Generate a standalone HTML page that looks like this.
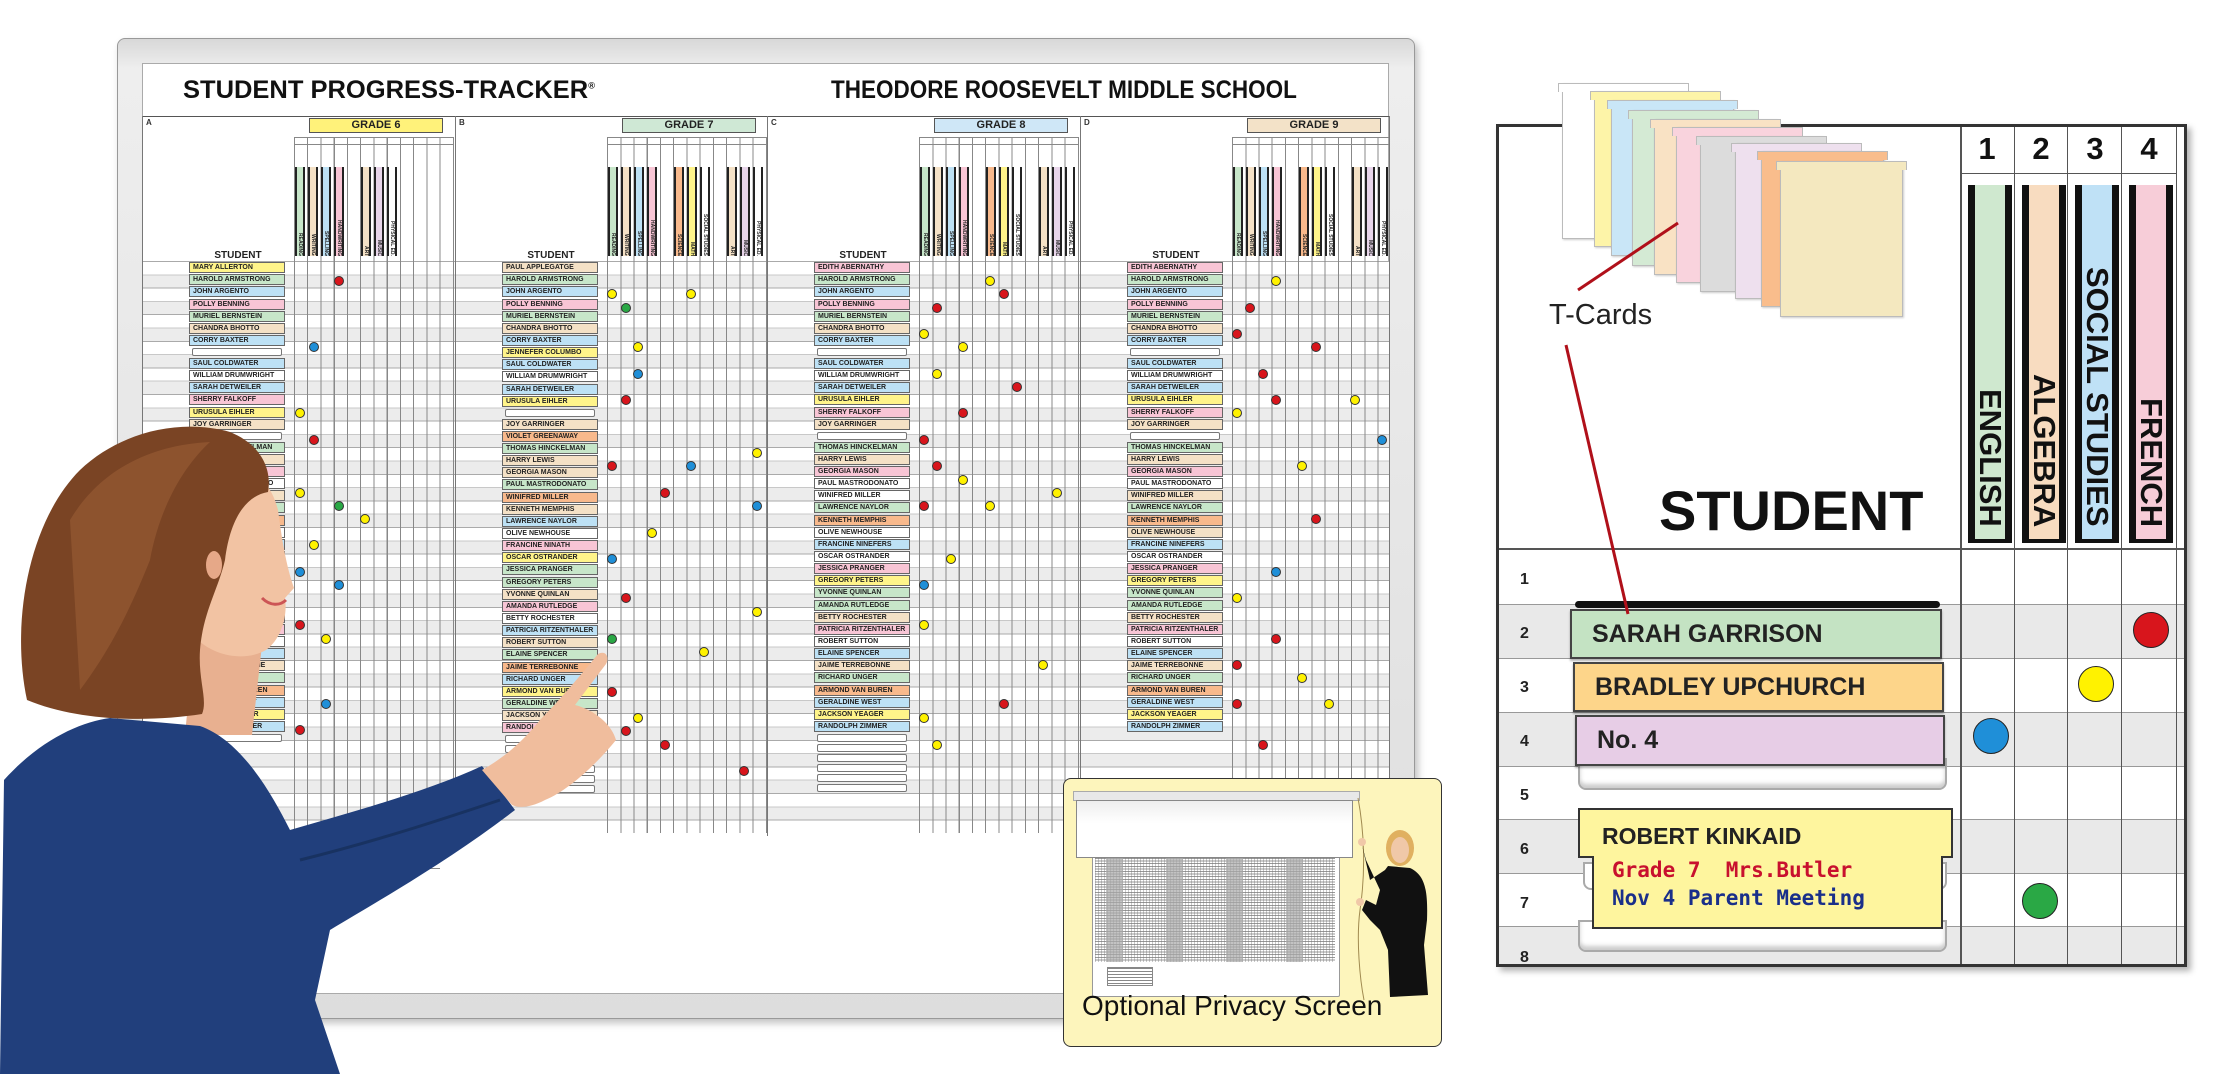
<!DOCTYPE html>
<html><head><meta charset="utf-8">
<style>
*{margin:0;padding:0;box-sizing:border-box}
body{width:2227px;height:1074px;position:relative;overflow:hidden;background:#fff;font-family:"Liberation Sans",sans-serif}
.a{position:absolute}
.sec{position:absolute;top:116px;width:313px;height:720px;border-left:1px solid #777}
.grid{position:absolute;left:151px;top:21px;width:160px;height:696px;
background:repeating-linear-gradient(90deg,#888 0 1px,transparent 1px 13.25px)}
.rows{position:absolute;left:0;top:145px;width:312px;height:572px;
background:repeating-linear-gradient(180deg,#aaa 0 1px,#fff 1px 13.3px,#c8c8c8 13.3px 14.3px,#ececec 14.3px 26.6px)}
.nums{position:absolute;left:151px;top:21px;width:160px;height:8px;border-bottom:1px solid #888;border-top:1px solid #888}
.gr{position:absolute;left:166px;top:2px;width:134px;height:15px;border:1px solid #555;font:bold 11px "Liberation Sans Narrow","Liberation Sans",sans-serif;text-align:center;line-height:13px;color:#222}
.lt{position:absolute;left:3px;top:2px;font:bold 8px "Liberation Sans",sans-serif;color:#333}
.st{position:absolute;left:40px;width:110px;top:134px;text-align:center;font:bold 10px "Liberation Sans Narrow","Liberation Sans",sans-serif;color:#222}
.nm{position:absolute;left:46px;top:145px;width:96px}
.nm b{display:block;height:11px;margin:1.15px 0;border:1px solid #666;font:bold 7px/9px "Liberation Sans Narrow","Liberation Sans",sans-serif;padding-left:3px;white-space:nowrap;overflow:hidden;color:#222}
.nm b.tr{border:1px solid #777;border-radius:2px;background:#fff;margin:2px 3px;height:8px}
.y{background:#fff48a}.g{background:#c7e6c9}.b{background:#bde1f5}.p{background:#f8c5d5}.t{background:#f4e1c6}.o{background:#f8b98c}.w{background:#fff}.l{background:#e8d5ea}
.cd{position:absolute;top:51px;width:10px;height:89px;border:1px solid #222;border-width:0 2px;font:bold 5px "Liberation Sans",sans-serif;writing-mode:vertical-rl;text-align:end;color:#222;overflow:hidden}
.dot{position:absolute;width:10px;height:10px;border-radius:50%;border:1px solid #333;margin:-5px 0 0 -5px}
.R{background:#d8151c}.Y{background:#fff200}.G{background:#2aa845}.B{background:#1f8fd8}
.bigdot{position:absolute;width:36px;height:36px;border-radius:50%;border:1.5px solid #222;margin:-18px 0 0 -18px}
.tc{position:absolute;width:123px;height:156px;border:1px solid #bbb;box-shadow:1px 1px 2px rgba(0,0,0,.2)}
.tc:before{content:"";position:absolute;left:-5px;right:-5px;top:-1px;height:8px;background:inherit;border:1px solid #bbb;border-bottom:none}
.rn{position:absolute;left:1520px;font:bold 16px "Liberation Sans",sans-serif;color:#222}
.card{position:absolute;border:2px solid #444;font:bold 25px "Liberation Sans",sans-serif;color:#222;padding-left:20px;line-height:46px;box-shadow:0 2px 2px rgba(0,0,0,.3)}
.subj{position:absolute;top:185px;width:44px;height:358px;border:1px solid #111;border-width:0 7px 4px 7px}
.subj span{position:absolute;bottom:12px;left:0;width:30px;writing-mode:vertical-rl;font:bold 31px "Liberation Sans",sans-serif;line-height:30px;color:#111;white-space:nowrap}
</style></head><body>

<div class="a" style="left:117px;top:38px;width:1298px;height:981px;background:linear-gradient(#d8d8d8,#eee 3%,#ddd);border:1px solid #999;border-radius:8px;box-shadow:3px 4px 8px rgba(0,0,0,.25)"></div>
<div class="a" style="left:142px;top:63px;width:1247px;height:931px;background:#fff;border:1px solid #aaa"></div>
<div class="a" style="left:183px;top:76px;font:bold 25px 'Liberation Sans',sans-serif;color:#111;transform:scaleX(1.02);transform-origin:left">STUDENT PROGRESS-TRACKER<sup style="font-size:9px">®</sup></div>
<div class="a" style="left:831px;top:76px;font:bold 25px 'Liberation Sans',sans-serif;color:#111;white-space:nowrap;transform:scaleX(0.9);transform-origin:left">THEODORE ROOSEVELT MIDDLE SCHOOL</div>
<div class="a" style="left:142px;top:116px;width:1247px;border-top:1px solid #555"></div>

<div class="sec" style="left:142px">
<div class="lt">A</div><div class="gr" style="background:#fff27a">GRADE 6</div>
<div class="rows"></div><div class="nums"></div><div class="grid"></div>
<div class="cd g" style="left:152px">READING</div><div class="cd t" style="left:165px">WRITING</div><div class="cd b" style="left:178px">SPELLING</div><div class="cd p" style="left:191px">HANDWRITING</div><div class="cd t" style="left:218px">ART</div><div class="cd l" style="left:231px">MUSIC</div><div class="cd w" style="left:244px">PHYSICAL ED.</div>
<div class="st">STUDENT</div>
<div class="nm"><b class=y>MARY ALLERTON</b><b class=g>HAROLD ARMSTRONG</b><b class=b>JOHN ARGENTO</b><b class=p>POLLY BENNING</b><b class=g>MURIEL BERNSTEIN</b><b class=t>CHANDRA BHOTTO</b><b class=b>CORRY BAXTER</b><b class=tr></b><b class=b>SAUL COLDWATER</b><b class=w>WILLIAM DRUMWRIGHT</b><b class=b>SARAH DETWEILER</b><b class=p>SHERRY FALKOFF</b><b class=y>URUSULA EIHLER</b><b class=t>JOY GARRINGER</b><b class=tr></b><b class=g>THOMAS HINCKELMAN</b><b class=t>HARRY LEWIS</b><b class=p>GEORGIA MASON</b><b class=w>PAUL MASTRODONATO</b><b class=t>WINIFRED MILLER</b><b class=g>LAWRENCE NAYLOR</b><b class=o>KENNETH MEMPHIS</b><b class=w>OLIVE NEWHOUSE</b><b class=b>FRANCINE NINEFERS</b><b class=w>OSCAR OSTRANDER</b><b class=y>JESSICA PRANGER</b><b class=g>GREGORY PETERS</b><b class=g>YVONNE QUINLAN</b><b class=t>AMANDA RUTLEDGE</b><b class=p>BETTY ROCHESTER</b><b class=p>PATRICIA RITZENTHALER</b><b class=w>ROBERT SUTTON</b><b class=b>ELAINE SPENCER</b><b class=t>JAIME TERREBONNE</b><b class=g>RICHARD UNGER</b><b class=o>ARMOND VAN BUREN</b><b class=b>GERALDINE WEST</b><b class=y>JACKSON YEAGER</b><b class=b>RANDOLPH ZIMMER</b><b class=tr></b></div>
</div>

<div class="sec" style="left:455px">
<div class="lt">B</div><div class="gr" style="background:#cfe8d5">GRADE 7</div>
<div class="rows"></div><div class="nums"></div><div class="grid"></div>
<div class="cd g" style="left:152px">READING</div><div class="cd t" style="left:165px">WRITING</div><div class="cd b" style="left:178px">SPELLING</div><div class="cd p" style="left:191px">HANDWRITING</div><div class="cd o" style="left:218px">SCIENCE</div><div class="cd y" style="left:231px">MATH</div><div class="cd w" style="left:244px">SOCIAL STUDIES</div><div class="cd t" style="left:271px">ART</div><div class="cd l" style="left:284px">MUSIC</div><div class="cd w" style="left:297px">PHYSICAL ED.</div>
<div class="st">STUDENT</div>
<div class="nm"><b class=t>PAUL APPLEGATGE</b><b class=g>HAROLD ARMSTRONG</b><b class=b>JOHN ARGENTO</b><b class=p>POLLY BENNING</b><b class=g>MURIEL BERNSTEIN</b><b class=t>CHANDRA BHOTTO</b><b class=b>CORRY BAXTER</b><b class=y>JENNEFER COLUMBO</b><b class=b>SAUL COLDWATER</b><b class=w>WILLIAM DRUMWRIGHT</b><b class=b>SARAH DETWEILER</b><b class=y>URUSULA EIHLER</b><b class=tr></b><b class=t>JOY GARRINGER</b><b class=o>VIOLET GREENAWAY</b><b class=g>THOMAS HINCKELMAN</b><b class=t>HARRY LEWIS</b><b class=t>GEORGIA MASON</b><b class=g>PAUL MASTRODONATO</b><b class=o>WINIFRED MILLER</b><b class=t>KENNETH MEMPHIS</b><b class=b>LAWRENCE NAYLOR</b><b class=w>OLIVE NEWHOUSE</b><b class=p>FRANCINE NINATH</b><b class=y>OSCAR OSTRANDER</b><b class=g>JESSICA PRANGER</b><b class=g>GREGORY PETERS</b><b class=t>YVONNE QUINLAN</b><b class=p>AMANDA RUTLEDGE</b><b class=w>BETTY ROCHESTER</b><b class=b>PATRICIA RITZENTHALER</b><b class=t>ROBERT SUTTON</b><b class=g>ELAINE SPENCER</b><b class=o>JAIME TERREBONNE</b><b class=b>RICHARD UNGER</b><b class=y>ARMOND VAN BUREN</b><b class=g>GERALDINE WEST</b><b class=t>JACKSON YEAGER</b><b class=p>RANDOLPH ZIMMER</b><b class=tr></b><b class=tr></b><b class=tr></b><b class=tr></b><b class=tr></b><b class=tr></b></div>
</div>

<div class="sec" style="left:767px">
<div class="lt">C</div><div class="gr" style="background:#cfe7f7">GRADE 8</div>
<div class="rows"></div><div class="nums"></div><div class="grid"></div>
<div class="cd g" style="left:152px">READING</div><div class="cd t" style="left:165px">WRITING</div><div class="cd b" style="left:178px">SPELLING</div><div class="cd p" style="left:191px">HANDWRITING</div><div class="cd o" style="left:218px">SCIENCE</div><div class="cd y" style="left:231px">MATH</div><div class="cd w" style="left:244px">SOCIAL STUDIES</div><div class="cd t" style="left:271px">ART</div><div class="cd l" style="left:284px">MUSIC</div><div class="cd w" style="left:297px">PHYSICAL ED.</div>
<div class="st">STUDENT</div>
<div class="nm"><b class=p>EDITH ABERNATHY</b><b class=g>HAROLD ARMSTRONG</b><b class=b>JOHN ARGENTO</b><b class=p>POLLY BENNING</b><b class=g>MURIEL BERNSTEIN</b><b class=t>CHANDRA BHOTTO</b><b class=b>CORRY BAXTER</b><b class=tr></b><b class=b>SAUL COLDWATER</b><b class=w>WILLIAM DRUMWRIGHT</b><b class=b>SARAH DETWEILER</b><b class=y>URUSULA EIHLER</b><b class=p>SHERRY FALKOFF</b><b class=t>JOY GARRINGER</b><b class=tr></b><b class=g>THOMAS HINCKELMAN</b><b class=t>HARRY LEWIS</b><b class=p>GEORGIA MASON</b><b class=w>PAUL MASTRODONATO</b><b class=w>WINIFRED MILLER</b><b class=g>LAWRENCE NAYLOR</b><b class=o>KENNETH MEMPHIS</b><b class=w>OLIVE NEWHOUSE</b><b class=b>FRANCINE NINEFERS</b><b class=w>OSCAR OSTRANDER</b><b class=p>JESSICA PRANGER</b><b class=y>GREGORY PETERS</b><b class=g>YVONNE QUINLAN</b><b class=g>AMANDA RUTLEDGE</b><b class=t>BETTY ROCHESTER</b><b class=p>PATRICIA RITZENTHALER</b><b class=w>ROBERT SUTTON</b><b class=b>ELAINE SPENCER</b><b class=t>JAIME TERREBONNE</b><b class=g>RICHARD UNGER</b><b class=o>ARMOND VAN BUREN</b><b class=b>GERALDINE WEST</b><b class=y>JACKSON YEAGER</b><b class=b>RANDOLPH ZIMMER</b><b class=tr></b><b class=tr></b><b class=tr></b><b class=tr></b><b class=tr></b><b class=tr></b></div>
</div>

<div class="sec" style="left:1080px;width:310px;border-right:1px solid #777">
<div class="lt">D</div><div class="gr" style="background:#f3e2c8">GRADE 9</div>
<div class="rows" style="width:308px"></div><div class="nums" style="width:157px"></div><div class="grid" style="width:157px"></div>
<div class="cd g" style="left:152px">READING</div><div class="cd t" style="left:165px">WRITING</div><div class="cd b" style="left:178px">SPELLING</div><div class="cd p" style="left:191px">HANDWRITING</div><div class="cd o" style="left:218px">SCIENCE</div><div class="cd y" style="left:231px">MATH</div><div class="cd w" style="left:244px">SOCIAL STUDIES</div><div class="cd t" style="left:271px">ART</div><div class="cd l" style="left:284px">MUSIC</div><div class="cd w" style="left:297px">PHYSICAL ED.</div>
<div class="st">STUDENT</div>
<div class="nm"><b class=p>EDITH ABERNATHY</b><b class=g>HAROLD ARMSTRONG</b><b class=b>JOHN ARGENTO</b><b class=p>POLLY BENNING</b><b class=g>MURIEL BERNSTEIN</b><b class=t>CHANDRA BHOTTO</b><b class=b>CORRY BAXTER</b><b class=tr></b><b class=b>SAUL COLDWATER</b><b class=w>WILLIAM DRUMWRIGHT</b><b class=b>SARAH DETWEILER</b><b class=y>URUSULA EIHLER</b><b class=p>SHERRY FALKOFF</b><b class=t>JOY GARRINGER</b><b class=tr></b><b class=g>THOMAS HINCKELMAN</b><b class=t>HARRY LEWIS</b><b class=p>GEORGIA MASON</b><b class=w>PAUL MASTRODONATO</b><b class=t>WINIFRED MILLER</b><b class=g>LAWRENCE NAYLOR</b><b class=o>KENNETH MEMPHIS</b><b class=t>OLIVE NEWHOUSE</b><b class=b>FRANCINE NINEFERS</b><b class=w>OSCAR OSTRANDER</b><b class=p>JESSICA PRANGER</b><b class=y>GREGORY PETERS</b><b class=g>YVONNE QUINLAN</b><b class=g>AMANDA RUTLEDGE</b><b class=t>BETTY ROCHESTER</b><b class=p>PATRICIA RITZENTHALER</b><b class=w>ROBERT SUTTON</b><b class=b>ELAINE SPENCER</b><b class=t>JAIME TERREBONNE</b><b class=g>RICHARD UNGER</b><b class=o>ARMOND VAN BUREN</b><b class=b>GERALDINE WEST</b><b class=y>JACKSON YEAGER</b><b class=b>RANDOLPH ZIMMER</b></div>
</div>

<div class="dot R" style="left:339px;top:281px"></div><div class="dot B" style="left:314px;top:347px"></div><div class="dot Y" style="left:300px;top:413px"></div><div class="dot R" style="left:314px;top:440px"></div><div class="dot Y" style="left:300px;top:493px"></div><div class="dot G" style="left:339px;top:506px"></div><div class="dot Y" style="left:365px;top:519px"></div><div class="dot Y" style="left:314px;top:545px"></div><div class="dot B" style="left:300px;top:572px"></div><div class="dot B" style="left:339px;top:585px"></div><div class="dot R" style="left:300px;top:625px"></div><div class="dot Y" style="left:326px;top:639px"></div><div class="dot B" style="left:326px;top:704px"></div><div class="dot R" style="left:300px;top:730px"></div>
<div class="dot Y" style="left:612px;top:294px"></div><div class="dot Y" style="left:691px;top:294px"></div><div class="dot G" style="left:626px;top:308px"></div><div class="dot Y" style="left:638px;top:347px"></div><div class="dot B" style="left:638px;top:374px"></div><div class="dot R" style="left:626px;top:400px"></div><div class="dot Y" style="left:757px;top:453px"></div><div class="dot R" style="left:612px;top:466px"></div><div class="dot B" style="left:691px;top:466px"></div><div class="dot R" style="left:665px;top:493px"></div><div class="dot B" style="left:757px;top:506px"></div><div class="dot Y" style="left:652px;top:533px"></div><div class="dot B" style="left:612px;top:559px"></div><div class="dot R" style="left:626px;top:598px"></div><div class="dot Y" style="left:757px;top:612px"></div><div class="dot G" style="left:612px;top:639px"></div><div class="dot Y" style="left:704px;top:652px"></div><div class="dot R" style="left:612px;top:692px"></div><div class="dot Y" style="left:638px;top:718px"></div><div class="dot R" style="left:626px;top:731px"></div><div class="dot R" style="left:665px;top:745px"></div><div class="dot R" style="left:744px;top:771px"></div>
<div class="dot Y" style="left:990px;top:281px"></div><div class="dot R" style="left:1004px;top:294px"></div><div class="dot R" style="left:937px;top:308px"></div><div class="dot Y" style="left:924px;top:334px"></div><div class="dot Y" style="left:963px;top:347px"></div><div class="dot Y" style="left:937px;top:374px"></div><div class="dot R" style="left:1017px;top:387px"></div><div class="dot R" style="left:963px;top:413px"></div><div class="dot R" style="left:924px;top:440px"></div><div class="dot R" style="left:937px;top:466px"></div><div class="dot Y" style="left:963px;top:480px"></div><div class="dot Y" style="left:1057px;top:493px"></div><div class="dot R" style="left:924px;top:506px"></div><div class="dot Y" style="left:990px;top:506px"></div><div class="dot Y" style="left:951px;top:559px"></div><div class="dot B" style="left:924px;top:585px"></div><div class="dot Y" style="left:924px;top:625px"></div><div class="dot Y" style="left:1043px;top:665px"></div><div class="dot R" style="left:1004px;top:704px"></div><div class="dot Y" style="left:924px;top:718px"></div><div class="dot Y" style="left:937px;top:745px"></div>
<div class="dot Y" style="left:1276px;top:281px"></div><div class="dot R" style="left:1250px;top:308px"></div><div class="dot R" style="left:1237px;top:334px"></div><div class="dot R" style="left:1316px;top:347px"></div><div class="dot R" style="left:1263px;top:374px"></div><div class="dot R" style="left:1276px;top:400px"></div><div class="dot Y" style="left:1355px;top:400px"></div><div class="dot Y" style="left:1237px;top:413px"></div><div class="dot B" style="left:1382px;top:440px"></div><div class="dot Y" style="left:1302px;top:466px"></div><div class="dot R" style="left:1316px;top:519px"></div><div class="dot B" style="left:1276px;top:572px"></div><div class="dot Y" style="left:1237px;top:598px"></div><div class="dot R" style="left:1276px;top:639px"></div><div class="dot R" style="left:1237px;top:665px"></div><div class="dot Y" style="left:1302px;top:678px"></div><div class="dot R" style="left:1237px;top:704px"></div><div class="dot Y" style="left:1329px;top:704px"></div><div class="dot R" style="left:1263px;top:745px"></div>

<div class="a" style="left:312px;top:848px;font:bold 15px 'Liberation Sans',sans-serif;color:#222">Legend</div>
<div class="a" style="left:300px;top:868px;width:140px;border-top:1px solid #888"></div>

<div class="a" style="left:1063px;top:778px;width:379px;height:269px;background:#fdf5bc;border:1.5px solid #333;border-radius:8px"></div>
<div class="a" style="left:1092px;top:855px;width:248px;height:142px;background:#fff;border:1px solid #999;border-radius:2px"></div>
<div class="a" style="left:1095px;top:858px;width:240px;height:104px;background:repeating-linear-gradient(180deg,#999 0 1px,#fff 1px 2.6px)"></div>
<div class="a" style="left:1095px;top:858px;width:240px;height:104px;background:repeating-linear-gradient(90deg,rgba(120,120,120,.5) 0 1px,transparent 1px 3px);opacity:.8"></div>
<div class="a" style="left:1106px;top:858px;width:17px;height:104px;background:#aaa;opacity:.7"></div>
<div class="a" style="left:1166px;top:858px;width:17px;height:104px;background:#aaa;opacity:.7"></div>
<div class="a" style="left:1226px;top:858px;width:17px;height:104px;background:#aaa;opacity:.7"></div>
<div class="a" style="left:1286px;top:858px;width:17px;height:104px;background:#aaa;opacity:.7"></div>
<div class="a" style="left:1107px;top:967px;width:46px;height:19px;background:repeating-linear-gradient(180deg,#888 0 1px,#fff 1px 3px);border:1px solid #888"></div>
<div class="a" style="left:1073px;top:791px;width:287px;height:10px;background:#e8e8e8;border:1px solid #aaa"></div>
<div class="a" style="left:1076px;top:800px;width:277px;height:58px;background:linear-gradient(#eee,#fff 40%);border:1px solid #888"></div>
<svg class="a" style="left:1340px;top:790px" width="100" height="215" viewBox="0 0 100 215">
<path d="M18,8 C24,40 26,80 20,120 C16,150 20,190 24,210" stroke="#a08a50" fill="none" stroke-width="1"/>
<ellipse cx="60" cy="58" rx="14" ry="18" fill="#e0b060"/>
<ellipse cx="60" cy="60" rx="9" ry="13" fill="#f0c8a8"/>
<path d="M22,55 L30,90 L45,80 L48,76 L70,78 C85,85 88,100 87,130 L84,155 L88,205 L50,207 L48,160 L40,140 L30,130 L22,120 L26,110 L36,115 L40,100 L26,70 Z" fill="#111"/>
<circle cx="22" cy="52" r="4" fill="#f0c8a8"/><circle cx="20" cy="112" r="4" fill="#f0c8a8"/>
</svg>
<div class="a" style="left:1082px;top:990px;font:28px 'Liberation Sans',sans-serif;color:#111;white-space:nowrap">Optional Privacy Screen</div>

<!-- woman -->
<svg class="a" style="left:0;top:0" width="660" height="1074" viewBox="0 0 660 1074">
<path d="M195,630 L262,645 L252,735 L185,735 Z" fill="#e8b090"/>
<path d="M4,780 C40,740 80,722 110,718 L200,726 C240,740 270,790 290,830 C360,810 430,790 482,766 L515,810 C450,860 380,900 330,930 L315,1000 L340,1074 L0,1074 Z" fill="#213f7c"/>
<path d="M300,860 C380,840 440,820 500,800" stroke="#183261" stroke-width="3" fill="none"/>
<path d="M200,470 C235,455 268,470 278,510 C282,540 286,565 294,588 L285,598 C288,618 280,640 266,650 C245,662 215,656 198,640 Z" fill="#f2c3a3"/>
<path d="M262,598 C270,606 280,606 286,600" stroke="#c55" stroke-width="3" fill="none"/>
<path d="M27,700 C10,620 30,520 80,470 C120,432 180,418 230,432 C262,445 272,470 268,492 C245,496 230,520 225,560 C218,590 203,612 200,650 C198,680 208,700 202,714 C150,722 80,722 27,700 Z" fill="#7a4424"/>
<path d="M70,520 C100,470 150,445 210,442 C185,465 160,505 150,560 C130,610 110,650 80,690 Z" fill="#955a33" opacity=".7"/>
<ellipse cx="214" cy="565" rx="8" ry="14" fill="#e6a888"/>
<path d="M482,770 C500,760 520,745 540,720 C560,700 585,670 598,654 C605,650 610,656 606,664 L575,705 C595,710 612,725 616,740 C600,760 570,790 545,800 C530,808 518,808 512,805 Z" fill="#f0bd9d"/>
</svg>

<!-- RIGHT PANEL -->
<div class="a" style="left:1496px;top:124px;width:691px;height:843px;border:3px solid #333;background:#fff;box-shadow:4px 4px 6px rgba(0,0,0,.3)"></div>
<div class="a" style="left:1499px;top:604px;width:685px;height:54px;background:#e9e9e9"></div>
<div class="a" style="left:1499px;top:712px;width:685px;height:54px;background:#e9e9e9"></div>
<div class="a" style="left:1499px;top:819px;width:685px;height:54px;background:#e9e9e9"></div>
<div class="a" style="left:1499px;top:926px;width:685px;height:38px;background:#e9e9e9"></div>
<div class="a" style="left:1499px;top:548px;width:685px;border-top:2px solid #555"></div>
<div class="a" style="left:1499px;top:604px;width:685px;border-top:1px solid #999"></div>
<div class="a" style="left:1499px;top:658px;width:685px;border-top:1px solid #999"></div>
<div class="a" style="left:1499px;top:712px;width:685px;border-top:1px solid #999"></div>
<div class="a" style="left:1499px;top:766px;width:685px;border-top:1px solid #999"></div>
<div class="a" style="left:1499px;top:819px;width:685px;border-top:1px solid #999"></div>
<div class="a" style="left:1499px;top:873px;width:685px;border-top:1px solid #999"></div>
<div class="a" style="left:1499px;top:926px;width:685px;border-top:1px solid #999"></div>
<div class="a" style="left:1960px;top:173px;width:216px;border-top:1px solid #555"></div>
<div class="a" style="left:1960px;top:127px;height:837px;border-left:2px solid #555"></div>
<div class="a" style="left:2014px;top:127px;height:837px;border-left:1px solid #555"></div>
<div class="a" style="left:2067px;top:127px;height:837px;border-left:1px solid #555"></div>
<div class="a" style="left:2121px;top:127px;height:837px;border-left:1px solid #555"></div>
<div class="a" style="left:2176px;top:127px;height:837px;border-left:1px solid #555"></div>
<div class="a" style="left:1960px;top:131px;width:216px;display:flex;font:bold 31px 'Liberation Sans',sans-serif;color:#111"><span style="width:54px;text-align:center">1</span><span style="width:54px;text-align:center">2</span><span style="width:54px;text-align:center">3</span><span style="width:54px;text-align:center">4</span></div>
<div class="subj" style="left:1968px;background:#cfe8cf"><span>ENGLISH</span></div>
<div class="subj" style="left:2022px;background:#f8dcc0"><span>ALGEBRA</span></div>
<div class="subj" style="left:2075px;background:#bfe1f6"><span>SOCIAL STUDIES</span></div>
<div class="subj" style="left:2129px;background:#f7cdd8"><span>FRENCH</span></div>
<div class="a" style="left:1659px;top:478px;font:bold 56px 'Liberation Sans',sans-serif;color:#111">STUDENT</div>
<div class="rn" style="top:571px">1</div><div class="rn" style="top:625px">2</div><div class="rn" style="top:679px">3</div><div class="rn" style="top:733px">4</div><div class="rn" style="top:787px">5</div><div class="rn" style="top:841px">6</div><div class="rn" style="top:895px">7</div><div class="rn" style="top:949px">8</div>

<div class="a" style="left:1575px;top:601px;width:365px;height:7px;background:#111;border-radius:4px"></div>
<div class="a" style="left:1578px;top:758px;width:369px;height:32px;background:#fff;border:2px solid #aaa;border-radius:0 0 8px 8px;box-shadow:inset 0 -4px 4px #ccc"></div>
<div class="a" style="left:1583px;top:862px;width:364px;height:28px;background:#fff;border:2px solid #aaa;border-radius:0 0 8px 8px"></div>
<div class="a" style="left:1578px;top:920px;width:369px;height:32px;background:#fff;border:2px solid #aaa;border-radius:0 0 8px 8px;box-shadow:inset 0 -4px 4px #ccc"></div>

<div class="card" style="left:1570px;top:609px;width:372px;height:50px;background:#c4e3c3">SARAH GARRISON</div>
<div class="card" style="left:1573px;top:662px;width:371px;height:50px;background:#fdd58a">BRADLEY UPCHURCH</div>
<div class="card" style="left:1575px;top:715px;width:370px;height:51px;background:#e7cde6">No. 4</div>

<svg class="a" style="left:1576px;top:806px" width="380" height="128" viewBox="0 0 380 128">
<path d="M3,3 L376,3 L376,51 L366,51 L366,122 L17,122 L17,51 L3,51 Z" fill="#fef59e" stroke="#333" stroke-width="2"/>
</svg>
<div class="a" style="left:1602px;top:823px;font:bold 23px 'Liberation Sans',sans-serif;color:#222">ROBERT KINKAID</div>
<div class="a" style="left:1612px;top:858px;font:bold 21px 'DejaVu Sans Mono',monospace;color:#c8102e;white-space:pre">Grade 7  Mrs.Butler</div>
<div class="a" style="left:1612px;top:886px;font:bold 21px 'DejaVu Sans Mono',monospace;color:#1a2f8a;white-space:pre">Nov 4 Parent Meeting</div>

<div class="bigdot R" style="left:2151px;top:630px"></div>
<div class="bigdot Y" style="left:2096px;top:684px"></div>
<div class="bigdot B" style="left:1991px;top:736px"></div>
<div class="bigdot G" style="left:2040px;top:901px"></div>

<div class="tc" style="left:1562px;top:83px;background:#fff"></div>
<div class="tc" style="left:1594px;top:91px;background:#fdf4a8"></div>
<div class="tc" style="left:1611px;top:100px;background:#c9e6f7"></div>
<div class="tc" style="left:1632px;top:110px;background:#d4ead4"></div>
<div class="tc" style="left:1654px;top:119px;background:#f9e2c4"></div>
<div class="tc" style="left:1676px;top:127px;background:#f9d3dd"></div>
<div class="tc" style="left:1700px;top:136px;background:#dcdcdc"></div>
<div class="tc" style="left:1735px;top:143px;background:#eee0ee"></div>
<div class="tc" style="left:1761px;top:151px;background:#f9bd8c"></div>
<div class="tc" style="left:1780px;top:161px;background:#f4e8bf"></div>
<div class="a" style="left:1549px;top:299px;font:29px 'Liberation Sans',sans-serif;color:#222">T-Cards</div>
<svg class="a" style="left:0;top:0" width="2227" height="1074" viewBox="0 0 2227 1074">
<line x1="1578" y1="290" x2="1678" y2="223" stroke="#b0101a" stroke-width="3"/>
<line x1="1566" y1="345" x2="1628" y2="614" stroke="#b0101a" stroke-width="3"/>
</svg>
</body></html>
